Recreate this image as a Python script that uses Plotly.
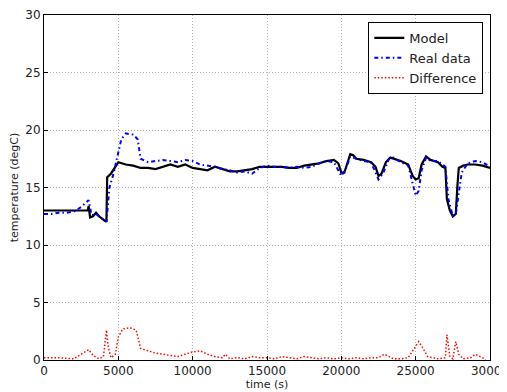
import plotly.graph_objects as go

model_t = [0, 1000, 2000, 2950, 3000, 3100, 3300, 3500, 3700, 3900, 4100, 4200, 4250, 4500, 4800, 5000, 5500, 6000, 6500, 7000, 7500,
           8000, 8500, 9000, 9500, 10000, 10500, 11000, 11500, 12000, 12500, 13000, 13500, 14000, 14500, 15000, 15500,
           16000, 16500, 17000, 17500, 18000, 18500, 19000, 19500, 19800, 20000, 20200, 20400, 20600, 20800, 21000,
           21500, 22000, 22300, 22500, 22700, 23000, 23300, 23600, 24000, 24500, 24800, 25000, 25200, 25400, 25700,
           26000, 26500, 26800, 27000, 27100, 27300, 27500, 27700, 27800, 27900, 28200, 28500, 29000, 29500, 30000]
model_v = [13.0, 13.0, 13.0, 13.0, 13.4, 12.4, 12.5, 12.8, 12.5, 12.3, 12.1, 12.1, 15.9, 16.2, 16.8, 17.2, 17.0, 16.9, 16.7, 16.7, 16.6,
           16.8, 17.0, 16.8, 17.0, 16.7, 16.6, 16.5, 16.8, 16.6, 16.4, 16.4, 16.5, 16.6, 16.8, 16.8, 16.8,
           16.8, 16.7, 16.7, 16.9, 17.0, 17.1, 17.3, 17.4, 17.1, 16.3, 16.3, 17.2, 17.9, 17.8, 17.5,
           17.4, 17.2, 16.8, 16.0, 16.2, 17.2, 17.6, 17.5, 17.3, 17.0, 16.0, 15.7, 15.8, 17.0, 17.7,
           17.4, 17.2, 16.8, 16.7, 14.0, 13.0, 12.5, 12.7, 15.0, 16.7, 16.9, 17.0, 17.0, 16.9, 16.7]

real_t = [0, 500, 1000, 1500, 2000, 2500, 3000, 3200, 3500, 3800, 4200, 4400, 4700, 4900, 5200, 5500, 6000, 6300, 6500, 7000,
          7500, 8000, 8500, 9000, 9500, 10000, 10500, 11000, 11500, 12000, 12500, 13000, 13500, 14000, 14500,
          15000, 15500, 16000, 16500, 17000, 17500, 18000, 18500, 19000, 19500, 20000, 20300, 20600, 21000, 21500,
          22000, 22500, 22800, 23200, 23500, 24000, 24500, 25000, 25200, 25400, 25700, 26000, 26500, 27000, 27200,
          27500, 27700, 27900, 28100, 28500, 29000, 29500, 30000]
real_v = [12.7, 12.7, 12.8, 12.8, 12.9, 13.3, 13.9, 12.6, 12.7, 12.4, 12.0, 15.0, 16.3, 17.5, 19.2, 19.7, 19.6, 19.2, 17.5, 17.2,
          17.3, 17.4, 17.3, 17.2, 17.4, 17.3, 17.0, 16.9, 16.8, 16.6, 16.5, 16.3, 16.4, 16.2, 16.7,
          16.9, 16.8, 16.8, 16.7, 16.8, 16.7, 16.8, 17.1, 17.3, 17.2, 16.0, 16.6, 17.7, 17.5, 17.3,
          17.2, 15.7, 16.2, 17.5, 17.6, 17.2, 16.9, 14.3, 14.7, 16.5, 17.6, 17.3, 17.3, 16.8, 14.0,
          12.5, 12.7, 14.5, 16.3, 17.1, 17.3, 17.2, 16.8]

diff_t = [0, 1000, 2000, 2500, 3000, 3300, 3700, 4000, 4200, 4300, 4500, 4800, 5000, 5300, 5800, 6200, 6500, 7000, 7500,
          8000, 8500, 9000, 9500, 10000, 10500, 11000, 11500, 12000, 12200, 12500, 13000, 13500, 14000, 14500, 15000,
          15500, 16000, 16500, 17000, 17500, 18000, 18500, 19000, 19500, 20000, 20500, 21000, 21500, 22000, 22500,
          22900, 23500, 24000, 24500, 24900, 25200, 25500, 25800, 26500, 27000, 27100, 27300, 27500, 27700, 27900,
          28200, 28700, 29000, 29500, 29700]
diff_v = [0.2, 0.2, 0.1, 0.5, 0.9, 0.4, 0.1, 0.3, 2.6, 1.3, 0.2, 0.5, 2.0, 2.7, 2.8, 2.6, 1.0, 0.8, 0.6,
          0.5, 0.4, 0.3, 0.5, 0.7, 0.8, 0.5, 0.3, 0.2, 0.5, 0.1, 0.2, 0.1, 0.3, 0.2, 0.2,
          0.1, 0.3, 0.2, 0.1, 0.3, 0.2, 0.1, 0.2, 0.1, 0.2, 0.1, 0.2, 0.1, 0.2, 0.2,
          0.5, 0.1, 0.1, 0.2, 1.0, 1.6, 1.0, 0.3, 0.1, 0.2, 2.2, 0.3, 0.1, 1.6, 0.5,
          0.1, 0.2, 0.5, 0.2, 0.0]

x_ticks = [0, 5000, 10000, 15000, 20000, 25000, 30000]
x_labels = ["0", "5000", "10000", "15000", "20000", "25000", "30000"]
y_ticks = [0, 5, 10, 15, 20, 25, 30]
y_labels = ["0", "5", "10", "15", "20", "25", "30"]

font = "DejaVu Sans"
fig = go.Figure()
fig.add_trace(go.Scatter(x=model_t, y=model_v, mode="lines", name="Model",
                         line=dict(color="black", width=2.2)))
fig.add_trace(go.Scatter(x=real_t, y=real_v, mode="lines", name="Real data",
                         line=dict(color="blue", width=2, dash="4px,3px,1.5px,3px")))
fig.add_trace(go.Scatter(x=diff_t, y=diff_v, mode="lines", name="Difference",
                         line=dict(color="red", width=1.5, dash="1.5px,2px")))

axis_common = dict(showline=True, linecolor="black", linewidth=1, mirror=True,
                   showgrid=True, gridcolor="#b5b5b5", griddash="1px,2px", gridwidth=1,
                   zeroline=False, ticks="inside", ticklen=4, tickcolor="black",
                   automargin=False, ticklabeloverflow="allow",
                   tickfont=dict(family=font, size=12, color="#222"))
fig.update_xaxes(range=[0, 30000], tickvals=x_ticks, ticktext=x_labels,
                 title=dict(text="time (s)", font=dict(family=font, size=11, color="#222"), standoff=0),
                 **axis_common)
fig.update_yaxes(range=[0, 30], tickvals=y_ticks, ticktext=y_labels,
                 title=dict(text="temperature (degC)", font=dict(family=font, size=11, color="#222"), standoff=4),
                 **axis_common)
# page body has an 8px default margin, so the figure is sized 8px smaller
fig.update_layout(width=499, height=384, margin=dict(l=36, r=17, t=7, b=32),
                  plot_bgcolor="white", paper_bgcolor="white",
                  font=dict(family=font),
                  legend=dict(x=0.985, y=0.98, xanchor="right", yanchor="top",
                              bordercolor="black", borderwidth=1, bgcolor="white",
                              font=dict(family=font, size=13, color="#222"),
                              tracegroupgap=0, itemwidth=30))
fig.write_html("out.html")
